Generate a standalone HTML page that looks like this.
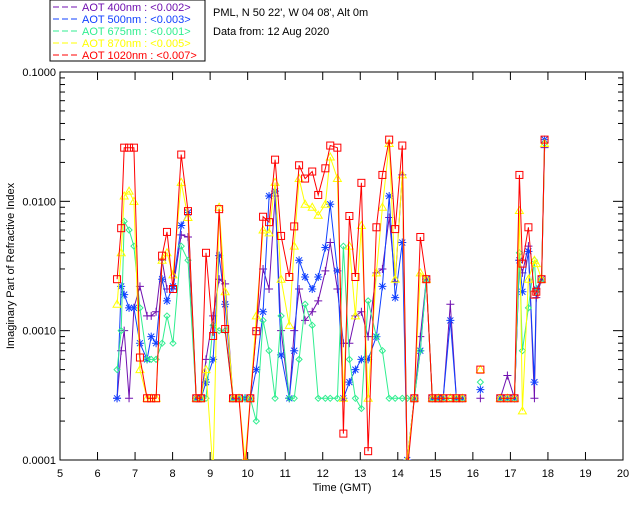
<!DOCTYPE html>
<html><head><meta charset="utf-8">
<style>
html,body{margin:0;padding:0;background:#fff;}
body{width:640px;height:512px;overflow:hidden;font-family:"Liberation Sans",sans-serif;}
svg text{font-family:"Liberation Sans",sans-serif;font-size:11px;}
</style></head>
<body>
<svg id="chart" width="640" height="512" xmlns="http://www.w3.org/2000/svg">
  <defs><clipPath id="plotclip"><rect x="60" y="72" width="563" height="388"/></clipPath></defs>
  <rect x="50" y="0" width="155" height="61" fill="none" stroke="#000"/>
  <g id="legend"></g>
  <text x="213" y="16" fill="#000">PML, N 50 22', W 04 08', Alt 0m</text>
  <text x="213" y="35" fill="#000">Data from: 12 Aug 2020</text>
  <rect x="60" y="72" width="563" height="388" fill="none" stroke="#000"/>
  <g id="axes"></g>
  <g id="series" clip-path="url(#plotclip)"></g>
  <text x="342" y="491" text-anchor="middle" fill="#000">Time (GMT)</text>
  <text transform="translate(14,266) rotate(-90)" text-anchor="middle" fill="#000">Imaginary Part of Refractive Index</text>
</svg>
<script>
const times=[6.52,6.63,6.71,6.84,6.97,7.13,7.32,7.43,7.56,7.72,7.85,8.01,8.23,8.41,8.63,8.76,8.89,9.08,9.24,9.4,9.61,9.77,9.93,10.07,10.23,10.41,10.57,10.73,10.89,11.11,11.24,11.37,11.53,11.72,11.88,12.07,12.2,12.39,12.55,12.71,12.87,13.03,13.21,13.43,13.59,13.77,13.93,14.12,14.25,14.44,14.6,14.76,14.92,15.08,15.21,15.4,15.56,15.72,16.2,16.73,16.92,17.11,17.24,17.32,17.48,17.64,17.69,17.83,17.91];
const aot400=[0.0003,0.0007,0.0010,0.0003,0.0015,0.0022,0.0013,0.0013,0.0014,0.0035,0.0021,0.0021,0.0055,0.0053,0.0003,0.0003,0.0006,0.0013,0.0025,0.0023,0.0003,0.0003,0.0003,0.0003,0.0010,0.0030,0.0021,0.011,0.0010,0.0003,0.0010,0.0021,0.0012,0.0014,0.0017,0.0029,0.0048,0.0021,0.0008,0.0008,0.0013,0.0014,0.0009,0.0028,0.0030,0.0075,0.0024,0.016,0.0001,0.0003,0.0009,0.0025,0.0003,0.0003,0.0003,0.0016,0.0003,0.0003,0.0003,0.0003,0.00045,0.0003,0.0035,0.0028,0.0045,0.0003,0.0018,0.0025,0.026];
const aot500=[0.0003,0.0022,0.0019,0.0015,0.0015,0.0008,0.0006,0.0009,0.0008,0.0025,0.0017,0.0022,0.0065,0.0082,0.0003,0.0003,0.0004,0.0006,0.0038,0.0016,0.0003,0.0003,0.0003,0.0003,0.0005,0.0014,0.011,0.012,0.00065,0.0003,0.0007,0.0035,0.0026,0.0021,0.0026,0.0044,0.0095,0.0029,0.0003,0.0004,0.0005,0.0006,0.0006,0.0009,0.0022,0.011,0.0018,0.0048,0.0001,0.0003,0.0007,0.0025,0.0003,0.0003,0.0003,0.0012,0.0003,0.0003,0.00035,0.0003,0.0003,0.0003,0.0035,0.0020,0.0041,0.0004,0.0021,0.0025,0.030];
const aot675=[0.0005,0.0010,0.0070,0.0060,0.0045,0.0015,0.0006,0.0006,0.0006,0.0008,0.0013,0.0008,0.0045,0.0035,0.0003,0.0003,0.0003,0.0011,0.0010,0.0010,0.0003,0.0003,0.0003,0.0003,0.0002,0.0012,0.0007,0.0003,0.0013,0.0003,0.0003,0.0006,0.0016,0.0011,0.0003,0.0003,0.0003,0.0003,0.0045,0.0006,0.0003,0.00025,0.0017,0.0009,0.0007,0.0003,0.0003,0.0003,0.0003,0.0003,0.0007,0.0025,0.0003,0.0003,0.0003,0.0003,0.0003,0.0003,0.0004,0.0003,0.0003,0.0003,0.0040,0.0007,0.0015,0.0035,0.0020,0.0025,0.028];
const aot870=[0.0016,0.004,0.011,0.012,0.010,0.0005,0.0003,0.0003,0.0003,0.0035,0.0040,0.0027,0.014,0.0075,0.0003,0.0003,0.0005,0.00008,0.009,0.002,0.0003,0.0003,0.0001,0.0003,0.0013,0.0060,0.0057,0.014,0.0025,0.0011,0.0045,0.015,0.0095,0.009,0.0078,0.0095,0.022,0.015,0.0003,0.0045,0.0013,0.0065,0.0003,0.0028,0.009,0.028,0.0025,0.016,0.0001,0.0003,0.0028,0.0025,0.0003,0.0003,0.0003,0.0003,0.0003,0.0003,0.0005,0.0003,0.0003,0.0003,0.0085,0.00024,0.0025,0.0035,0.0033,0.0025,0.028];
const aot1020=[0.0025,0.0062,0.026,0.026,0.026,0.00062,0.0003,0.0003,0.0003,0.0038,0.0058,0.0021,0.023,0.0084,0.0003,0.0003,0.0040,0.00091,0.0087,0.00103,0.0003,0.0003,0.00008,0.0003,0.00099,0.0076,0.0069,0.021,0.0054,0.0026,0.0064,0.019,0.015,0.017,0.0112,0.018,0.027,0.026,0.00016,0.0077,0.0026,0.0139,0.000117,0.0063,0.016,0.030,0.0061,0.027,0.00008,0.0003,0.0053,0.0025,0.0003,0.0003,0.0003,0.0003,0.0003,0.0003,0.0005,0.0003,0.0003,0.0003,0.016,0.0033,0.0063,0.0019,0.0020,0.0025,0.030];
const seriesLabels=["AOT  400nm : <0.002>","AOT  500nm : <0.003>","AOT  675nm : <0.001>","AOT  870nm : <0.005>","AOT 1020nm : <0.007>"];
const xTicks=[5,6,7,8,9,10,11,12,13,14,15,16,17,18,19,20];
const yTicks=[0.0001,0.001,0.01,0.1];
const yTickLabels=["0.0001","0.0010","0.0100","0.1000"];

const NS="http://www.w3.org/2000/svg";
const X0=60,X1=623,Y0=460,Y1=72;
function xs(h){return X0+(h-5)/(20-5)*(X1-X0);}
function ys(v){return Y0-(Math.log10(v)+4)/3*(Y0-Y1);}
function mk(tag,attrs,parent){const e=document.createElementNS(NS,tag);for(const k in attrs)e.setAttribute(k,attrs[k]);parent.appendChild(e);return e;}

const axes=document.getElementById('axes');
xTicks.forEach(t=>{
  const x=xs(t);
  let l=mk('line',{x1:x,x2:x,y1:Y0,y2:Y0-8,stroke:'#000'},axes);
  
  
  l=mk('line',{x1:x,x2:x,y1:Y1,y2:Y1+8,stroke:'#000'},axes);
  
  
  const tx=mk('text',{x:x,y:Y0+17,'text-anchor':'middle',fill:'#000'},axes);
  tx.textContent=String(t);
  
  
});
yTicks.forEach((t,i)=>{
  const y=ys(t);
  let l=mk('line',{x1:X0,x2:X0+10,y1:y,y2:y,stroke:'#000'},axes);
  
  
  l=mk('line',{x1:X1,x2:X1-10,y1:y,y2:y,stroke:'#000'},axes);
  
  
  const tx=mk('text',{x:X0-4,y:y+4,'text-anchor':'end',fill:'#000'},axes);
  tx.textContent=yTickLabels[i];
  
  
  if(i<yTicks.length-1){for(let m=2;m<=9;m++){const ym=ys(t*m);
    let a=mk('line',{x1:X0,x2:X0+5,y1:ym,y2:ym,stroke:'#000'},axes);
    
    
    a=mk('line',{x1:X1,x2:X1-5,y1:ym,y2:ym,stroke:'#000'},axes);
    
    
  }}
});

const colors=["#7010b0","#1040ff","#30ee90","#ffff00","#ff0000"];
const data=[aot400,aot500,aot675,aot870,aot1020];
const names=["aot-400","aot-500","aot-675","aot-870","aot-1020"];
const sg=document.getElementById('series');
function marker(kind,x,y,c,g){
  let e;
  if(kind===0){e=mk('path',{d:`M${x-4},${y}H${x+4}M${x},${y-4}V${y+4}`,stroke:c,fill:'none'},g);}
  else if(kind===1){e=mk('path',{d:`M${x-4},${y}H${x+4}M${x},${y-4}V${y+4}M${x-3},${y-3}L${x+3},${y+3}M${x-3},${y+3}L${x+3},${y-3}`,stroke:c,fill:'none'},g);}
  else if(kind===2){e=mk('path',{d:`M${x},${y-3}L${x+3},${y}L${x},${y+3}L${x-3},${y}Z`,stroke:c,fill:'none'},g);}
  else if(kind===3){e=mk('path',{d:`M${x},${y-4}L${x+4},${y+3}L${x-4},${y+3}Z`,stroke:c,fill:'none'},g);}
  else {e=mk('rect',{x:x-3.5,y:y-3.5,width:7,height:7,stroke:c,fill:'none'},g);}
  return e;
}
data.forEach((vals,si)=>{
  const g=mk('g',{},sg);
  
  
  let d='';
  for(let i=0;i<times.length;i++){
    const x=xs(times[i]),y=ys(vals[i]);
    const brk=i===0||times[i]-times[i-1]>0.4;
    d+=(brk?'M':'L')+x.toFixed(1)+','+y.toFixed(1);
  }
  const p=mk('path',{d:d,stroke:colors[si],fill:'none','stroke-width':1},g);
  
  
  for(let i=0;i<times.length;i++){
    const m=marker(si,xs(times[i]),ys(vals[i]),colors[si],g);
    
    
  }
});

const lg=document.getElementById('legend');
seriesLabels.forEach((s,i)=>{
  const y=11+i*12;
  const l=mk('line',{x1:53,x2:78,y1:y-4,y2:y-4,stroke:colors[i],'stroke-dasharray':'6,3'},lg);
  
  
  const t=mk('text',{x:82,y:y,fill:colors[i],'xml:space':'preserve'},lg);
  t.textContent=s;
  
  
});
</script>
</body></html>
